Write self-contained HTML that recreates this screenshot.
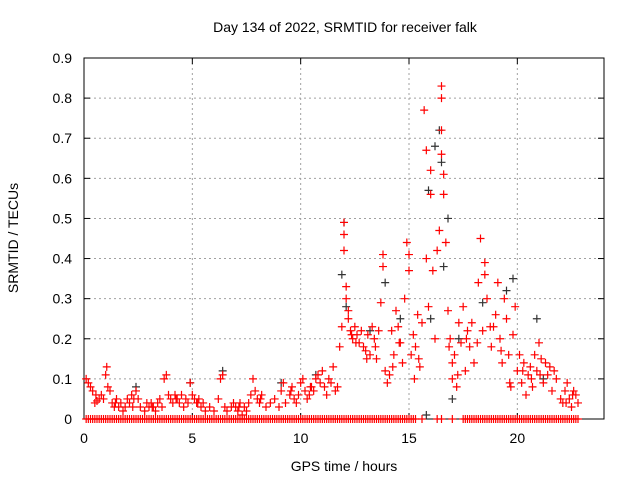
<!DOCTYPE html>
<html><head><meta charset="utf-8"><style>
body{margin:0;background:#fff}
svg text{font-family:"Liberation Sans",sans-serif;font-size:14px;fill:#000}
</style></head><body>
<svg id="c" width="640" height="480">
<text x="345" y="32" text-anchor="middle">Day 134 of 2022, SRMTID for receiver falk</text>
<text x="344" y="471" text-anchor="middle">GPS time / hours</text>
<text transform="translate(18,238) rotate(-90)" text-anchor="middle">SRMTID / TECUs</text>
<g id="grid"></g><g id="axes"></g><g id="marks"></g>
</svg>
<script>
const xTicks=[0,5,10,15,20];
const yTicks=[0,0.1,0.2,0.3,0.4,0.5,0.6,0.7,0.8,0.9];
const yTickLabels=["0","0.1","0.2","0.3","0.4","0.5","0.6","0.7","0.8","0.9"];
const zeroT=[0.1,0.2,0.3,0.4,0.5,0.6,0.7,0.8,0.9,1.0,1.1,1.2,1.3,1.4,1.5,1.6,1.7,1.8,1.9,2.0,2.1,2.2,2.3,2.4,2.5,2.6,2.7,2.8,2.9,3.0,3.1,3.2,3.3,3.4,3.5,3.6,3.7,3.8,3.9,4.0,4.1,4.2,4.3,4.4,4.5,4.6,4.7,4.8,4.9,5.0,5.1,5.2,5.3,5.4,5.5,5.6,5.7,5.8,5.9,6.0,6.1,6.2,6.3,6.4,6.5,6.6,6.7,6.8,6.9,7.0,7.1,7.2,7.3,7.4,7.5,7.6,7.7,7.8,7.9,8.0,8.1,8.2,8.3,8.4,8.5,8.6,8.7,8.8,8.9,9.0,9.1,9.2,9.3,9.4,9.5,9.6,9.7,9.8,9.9,10.0,10.1,10.2,10.3,10.4,10.5,10.6,10.7,10.8,10.9,11.0,11.1,11.2,11.3,11.4,11.5,11.6,11.7,11.8,11.9,12.0,12.1,12.2,12.3,12.4,12.5,12.6,12.7,12.8,12.9,13.0,13.1,13.2,13.3,13.4,13.5,13.6,13.7,13.8,13.9,14.0,14.1,14.2,14.3,14.4,14.5,14.6,14.7,14.8,14.9,15.0,15.1,15.2,15.3,15.6,16.3,16.5,17.0,17.5,17.6,17.7,17.8,17.9,18.0,18.1,18.2,18.3,18.4,18.5,18.6,18.7,18.8,18.9,19.0,19.1,19.2,19.3,19.4,19.5,19.6,19.7,19.8,19.9,20.0,20.1,20.2,20.3,20.4,20.5,20.6,20.7,20.8,20.9,21.0,21.1,21.2,21.3,21.4,21.5,21.6,21.7,21.8,21.9,22.0,22.1,22.2,22.3,22.4,22.5,22.6,22.7,22.8];
const blackT=[12.0,11.9,13.9,15.9,16.2,16.4,16.5,16.8,16.6,15.8,16.0,17.0,17.3,18.4,19.5,19.8,20.9,14.6,13.2,12.1,6.4,4.9,2.4,9.1,10.7,21.2];
const blackV=[0.49,0.36,0.34,0.57,0.68,0.72,0.64,0.50,0.38,0.01,0.25,0.05,0.20,0.29,0.32,0.35,0.25,0.25,0.22,0.28,0.12,0.09,0.08,0.09,0.11,0.10];
const redT=[0.1,0.2,0.3,0.4,0.5,0.6,0.7,0.8,0.9,1.0,1.05,1.1,1.2,1.3,1.4,1.5,1.6,1.7,1.8,1.9,2.0,2.1,2.2,2.3,2.4,2.5,2.6,2.8,2.9,3.0,3.1,3.2,3.3,3.4,3.5,3.6,3.7,3.8,3.9,4.0,4.1,4.2,4.3,4.4,4.5,4.6,4.7,4.8,4.9,5.0,5.1,5.2,5.3,5.4,5.5,5.6,5.8,6.0,6.2,6.3,6.4,6.5,6.6,6.8,6.9,7.0,7.1,7.2,7.3,7.4,7.5,7.6,7.7,7.8,7.9,8.0,8.1,8.2,8.4,8.6,8.8,9.0,9.1,9.2,9.3,9.5,9.6,9.7,9.8,9.9,10.0,10.1,10.2,10.3,10.4,10.5,10.6,10.7,10.8,10.9,11.0,11.1,11.2,11.3,11.4,11.5,11.6,11.7,11.8,11.9,12.0,12.0,12.0,12.1,12.1,12.2,12.2,12.3,12.4,12.5,12.6,12.7,12.8,12.9,13.0,13.1,13.2,13.3,13.4,13.5,13.6,13.7,13.8,13.8,13.9,14.0,14.1,14.2,14.3,14.4,14.5,14.6,14.7,14.8,14.9,15.0,15.0,15.1,15.2,15.3,15.4,15.5,15.6,15.7,15.8,15.8,15.9,16.0,16.0,16.1,16.2,16.3,16.4,16.5,16.5,16.5,16.5,16.6,16.6,16.7,16.8,16.9,17.0,17.0,17.1,17.2,17.3,17.4,17.5,17.6,17.7,17.8,17.9,18.0,18.2,18.3,18.4,18.5,18.5,18.6,18.8,18.9,19.0,19.1,19.2,19.3,19.4,19.5,19.6,19.7,19.8,19.9,20.0,20.1,20.2,20.3,20.4,20.5,20.6,20.7,20.8,20.9,21.0,21.1,21.2,21.3,21.4,21.5,21.6,21.7,21.8,22.0,22.1,22.2,22.3,22.4,22.5,22.6,22.7,22.8,0.55,1.45,2.25,3.15,4.25,5.25,7.15,8.15,9.55,10.45,12.35,12.55,13.05,13.45,14.25,14.55,15.25,15.45,16.85,17.25,17.65,18.15,18.75,19.25,19.65,20.25,20.65,21.05,22.25,22.55];
const redV=[0.10,0.09,0.08,0.07,0.04,0.045,0.05,0.06,0.05,0.11,0.13,0.08,0.07,0.04,0.03,0.05,0.03,0.04,0.02,0.03,0.05,0.04,0.06,0.05,0.07,0.05,0.03,0.02,0.04,0.03,0.04,0.03,0.02,0.04,0.05,0.03,0.10,0.11,0.06,0.05,0.04,0.06,0.05,0.04,0.06,0.03,0.05,0.04,0.09,0.06,0.05,0.04,0.05,0.03,0.04,0.02,0.03,0.02,0.05,0.10,0.11,0.03,0.02,0.03,0.04,0.03,0.02,0.04,0.01,0.03,0.02,0.04,0.06,0.10,0.07,0.05,0.04,0.06,0.03,0.04,0.05,0.03,0.07,0.09,0.04,0.06,0.08,0.05,0.04,0.06,0.09,0.10,0.07,0.05,0.06,0.08,0.07,0.10,0.11,0.09,0.12,0.08,0.06,0.10,0.09,0.13,0.07,0.08,0.18,0.23,0.42,0.46,0.49,0.33,0.30,0.27,0.25,0.22,0.20,0.23,0.21,0.19,0.22,0.18,0.17,0.21,0.16,0.23,0.20,0.15,0.22,0.29,0.41,0.38,0.12,0.09,0.11,0.22,0.16,0.27,0.23,0.19,0.14,0.30,0.44,0.41,0.37,0.16,0.21,0.18,0.26,0.13,0.24,0.77,0.67,0.40,0.28,0.56,0.62,0.37,0.20,0.42,0.47,0.83,0.80,0.72,0.66,0.56,0.61,0.44,0.27,0.20,0.10,0.14,0.16,0.08,0.24,0.19,0.28,0.12,0.22,0.18,0.24,0.14,0.34,0.45,0.22,0.39,0.36,0.30,0.18,0.23,0.26,0.34,0.20,0.14,0.30,0.25,0.16,0.08,0.21,0.28,0.12,0.16,0.09,0.14,0.06,0.11,0.13,0.08,0.16,0.12,0.19,0.15,0.09,0.14,0.11,0.13,0.07,0.12,0.10,0.05,0.04,0.07,0.09,0.05,0.03,0.07,0.06,0.04,0.06,0.04,0.03,0.03,0.05,0.04,0.03,0.05,0.07,0.08,0.21,0.19,0.15,0.18,0.13,0.19,0.10,0.15,0.18,0.11,0.20,0.19,0.23,0.17,0.09,0.12,0.10,0.11,0.04,0.06];

const L=84,R=604,T=58,B=419,XMAX=24,YMAX=0.9;
const sx=t=>L+t/XMAX*(R-L), sy=v=>B-v/YMAX*(B-T);
const NS="http://www.w3.org/2000/svg";
function mk(tag,attrs,parent){const e=document.createElementNS(NS,tag);for(const k in attrs)e.setAttribute(k,attrs[k]);parent.appendChild(e);return e;}
const grid=document.getElementById('grid'),axes=document.getElementById('axes'),marks=document.getElementById('marks');
yTicks.forEach((v,i)=>{const y=sy(v);
 if(v>0&&v<YMAX){const g=mk('line',{x1:L,x2:R,y1:y,y2:y,stroke:'#a0a0a0','stroke-dasharray':'2,3'},grid);
 
 }
 const tx=mk('text',{x:L-12,y:y+5,'text-anchor':'end'},axes);tx.textContent=yTickLabels[i];
 
 
 mk('line',{x1:L,x2:L+6,y1:y,y2:y,stroke:'#000'},axes);mk('line',{x1:R,x2:R-6,y1:y,y2:y,stroke:'#000'},axes);
});
xTicks.forEach(t=>{const x=sx(t);
 if(t>0){const g=mk('line',{x1:x,x2:x,y1:T,y2:B,stroke:'#a0a0a0','stroke-dasharray':'2,3'},grid);
 
 }
 const tx=mk('text',{x:x,y:B+24,'text-anchor':'middle'},axes);tx.textContent=String(t);
 
 
 mk('line',{x1:x,x2:x,y1:B,y2:B-6,stroke:'#000'},axes);mk('line',{x1:x,x2:x,y1:T,y2:T+6,stroke:'#000'},axes);
});
const fr=mk('rect',{x:L,y:T,width:R-L,height:B-T,fill:'none',stroke:'#000'},axes);


function plus(t,v,col,name){const x=sx(t),y=sy(v);
 const p=mk('path',{d:`M${x-4},${y}h8M${x},${y-4}v8`,stroke:col,'stroke-width':1.2,fill:'none'},marks);
 
 }
blackT.forEach((t,i)=>plus(t,blackV[i],'#333','black-point'));
redT.forEach((t,i)=>plus(t,redV[i],'#f00','red-point'));
zeroT.forEach(t=>plus(t,0,'#f00','zero-point'));
</script>
</body></html>
